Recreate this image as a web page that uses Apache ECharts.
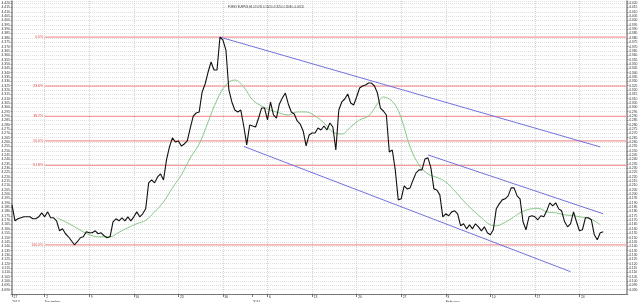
<!DOCTYPE html>
<html>
<head>
<meta charset="utf-8">
<script src="https://cdn.jsdelivr.net/npm/echarts@6/dist/echarts.min.js"></script>
<style>html,body{margin:0;padding:0;background:#fff}#c{width:640px;height:302px}</style>
</head>
<body>
<div id="c"></div>
<script>
// ---- data ----
const titleText = 'FOREX EURPLN,H4 4.15070 4.15420 4.13250 4.15080 +0.00110';
const slotCount = 208;
const closeValues = [
4.1877,4.1693,4.1716,4.1728,4.1739,4.1739,4.1739,4.1716,4.1716,4.1739,
4.1785,4.1739,4.1796,4.1728,4.1728,4.1693,4.1578,4.1601,4.1544,4.1509,
4.1463,4.1417,4.1452,4.1498,4.1509,4.1567,4.1555,4.1555,4.1578,4.1544,
4.1555,4.1521,4.1498,4.1509,4.1682,4.1716,4.1693,4.1728,4.1693,4.1739,
4.1693,4.1739,4.1796,4.1739,4.1774,4.1831,4.2130,4.2164,4.2130,4.2199,
4.2233,4.2164,4.2395,4.2544,4.2648,4.2601,4.2613,4.2555,4.2578,4.2613,
4.2762,4.2900,4.2935,4.2947,4.3177,4.3269,4.3407,4.3522,4.3430,4.3430,
4.3809,4.3775,4.3660,4.3200,4.3062,4.2969,4.2947,4.2969,4.2785,4.2567,
4.2797,4.2785,4.2774,4.2877,4.2992,4.2992,4.2855,4.3062,4.2912,4.2877,
4.3039,4.3108,4.3165,4.3039,4.2947,4.2924,4.2843,4.2808,4.2728,4.2555,
4.2682,4.2705,4.2705,4.2762,4.2739,4.2785,4.2739,4.2820,4.2774,4.2509,
4.2969,4.3062,4.3096,4.3154,4.3050,4.3027,4.3119,4.3223,4.3246,4.3257,
4.3280,4.3280,4.3246,4.3165,4.2992,4.2958,4.2912,4.2486,4.2509,4.2280,
4.1934,4.1946,4.2095,4.2061,4.2072,4.2164,4.2245,4.2280,4.2280,4.2406,
4.2418,4.2303,4.2061,4.2049,4.1992,4.1739,4.1774,4.1751,4.1796,4.1808,
4.1774,4.1636,4.1659,4.1601,4.1647,4.1601,4.1659,4.1624,4.1578,4.1624,
4.1555,4.1532,4.1590,4.1831,4.1888,4.1934,4.1946,4.1980,4.2072,4.2072,
4.1980,4.1946,4.1682,4.1590,4.1739,4.1751,4.1739,4.1705,4.1751,4.1739,
4.1808,4.1900,4.1865,4.1900,4.1831,4.1808,4.1682,4.1624,4.1659,4.1796,
4.1682,4.1578,4.1590,4.1728,4.1728,4.1705,4.1532,4.1475,4.1555,4.1567
];
const maIndex = [15,18,21,24,27,30,33,36,39,42,45,48,51,54,57,60,63,66,69,72,75,78,81,84,87,90,93,96,99,102,105,108,111,114,117,120,123,125,127,129,131,134,137,140,143,146,149,152,155,158,161,163,165,168,171,174,177,180,183,186,189,192,195,198];
const maValues = [4.1728,4.1682,4.1624,4.1567,4.1521,4.1509,4.1509,4.1561,4.1613,4.1659,4.1699,4.1796,4.1911,4.2072,4.2222,4.2417,4.2578,4.2831,4.3085,4.3257,4.3315,4.3234,4.3085,4.3016,4.2969,4.2935,4.2912,4.2947,4.2947,4.2900,4.2820,4.2716,4.2693,4.2774,4.2855,4.2900,4.3039,4.3119,4.3096,4.3027,4.2877,4.2544,4.2337,4.2233,4.2193,4.2141,4.2038,4.1923,4.1820,4.1728,4.1647,4.1636,4.1659,4.1716,4.1785,4.1825,4.1837,4.1796,4.1785,4.1762,4.1751,4.1734,4.1711,4.1647];
const fibHigh = 4.3809;
const fibLow = 4.1417;
const fibLevels = [0, 23.6, 38.2, 50, 61.8, 100];
const channelLines = [
  [[70, 4.3809], [198, 4.2544]],
  [[78, 4.2550], [188, 4.1107]],
  [[140, 4.2452], [199, 4.1774]]
];
const tickIndex = [0, 11, 26, 41, 56, 71, 81, 86, 101, 116, 131, 146, 161, 176, 191];
const tickDay   = ['27','2','9','16','23','30','','6','13','20','27','3','10','17','24'];
const tickMonth = ['2013','December','','','','','2014','','','','','February','','',''];
const gridIndex = [11, 26, 41, 56, 71, 86, 101, 116, 131, 146, 161, 176, 191];
const yMin = 4.085, yMax = 4.4225, yStep = 0.005;

// ---- build ----
const FF = 'Liberation Sans';
const categories = Array.from({length: slotCount}, (_, i) => String(i));
const maData = new Array(slotCount).fill(null);
maIndex.forEach((ix, k) => { maData[ix] = maValues[k]; });
const tickSet = new Set(tickIndex);
const gridSet = new Set(gridIndex);

function yLabel(v) {
  if (v < yMin + 0.002 || v > 4.4205) return '';
  return v.toFixed(3);
}

const yBase = {
  type: 'value', min: yMin, max: yMax, interval: yStep, scale: true,
  axisLine: {show: true, lineStyle: {color: '#8a8a8a', width: 1.5}},
  axisTick: {show: true, length: 1.5, lineStyle: {color: '#666', width: 0.6}},
  axisLabel: {fontSize: 3.4, color: '#333', margin: 2, fontFamily: FF, formatter: yLabel}
};

const series = [
  {
    type: 'line', data: closeValues, showSymbol: false, symbol: 'none',
    lineStyle: {color: '#111', width: 1.1}, z: 5
  },
  {
    type: 'line', data: maData, connectNulls: true, smooth: 0.4, showSymbol: false, symbol: 'none',
    lineStyle: {color: '#86c986', width: 1}, z: 4
  }
];
fibLevels.forEach(l => {
  const v = fibHigh - (fibHigh - fibLow) * l / 100;
  series.push({
    type: 'line', silent: true, z: 2,
    symbol: 'circle', symbolSize: 0.1, showSymbol: true,
    itemStyle: {color: 'rgba(0,0,0,0)'},
    lineStyle: {color: '#f39a9a', width: 1.3},
    data: [
      {value: [11, v], label: {show: true, position: 'left', distance: 1.5,
        formatter: l.toFixed(1) + '%', color: '#e04a4a', fontSize: 3.5, fontFamily: FF}},
      {value: [slotCount - 1, v]}
    ]
  });
});
channelLines.forEach(seg => {
  series.push({
    type: 'line', data: seg, showSymbol: false, symbol: 'none', silent: true,
    lineStyle: {color: '#7272e0', width: 1}, z: 3
  });
});

const option = {
  animation: false,
  backgroundColor: '#fff',
  title: {text: titleText, left: 223, top: 0.5,
    textStyle: {fontSize: 2.6, fontWeight: 'normal', color: '#333', fontFamily: FF}},
  grid: {left: 12, right: 13, top: 1, bottom: 8, containLabel: false, outerBoundsMode: 'none'},
  xAxis: {
    type: 'category', data: categories, boundaryGap: false,
    axisLine: {show: true, lineStyle: {color: '#777', width: 1}},
    axisTick: {show: true, length: 3, interval: (i) => tickSet.has(i), lineStyle: {color: '#555', width: 0.8}},
    splitLine: {show: true, interval: (i) => gridSet.has(i), lineStyle: {color: '#d4d4d4', type: 'dotted', width: 1}},
    axisLabel: {
      interval: (i) => tickSet.has(i), align: 'left', margin: 1,
      formatter: (v) => {
        const k = tickIndex.indexOf(Number(v));
        if (k < 0) return '';
        const d = '{d|' + (tickDay[k] || ' ') + '}';
        return tickMonth[k] ? d + '\n{m|' + tickMonth[k] + '}' : d;
      },
      rich: {
        d: {fontSize: 3.4, color: '#333', fontFamily: FF, padding: [0, 0, 0, 1.5], lineHeight: 4.5},
        m: {fontSize: 3.4, color: '#333', fontFamily: FF, lineHeight: 4.5}
      }
    }
  },
  yAxis: [
    Object.assign({}, yBase, {position: 'left',
      splitLine: {show: true, lineStyle: {color: '#e0e0e0', type: 'dotted', width: 1}}}),
    Object.assign({}, yBase, {position: 'right', splitLine: {show: false}})
  ],
  series: series
};

const chart = echarts.init(document.getElementById('c'), null, {renderer: 'canvas'});
chart.setOption(option);
</script>
</body>
</html>
